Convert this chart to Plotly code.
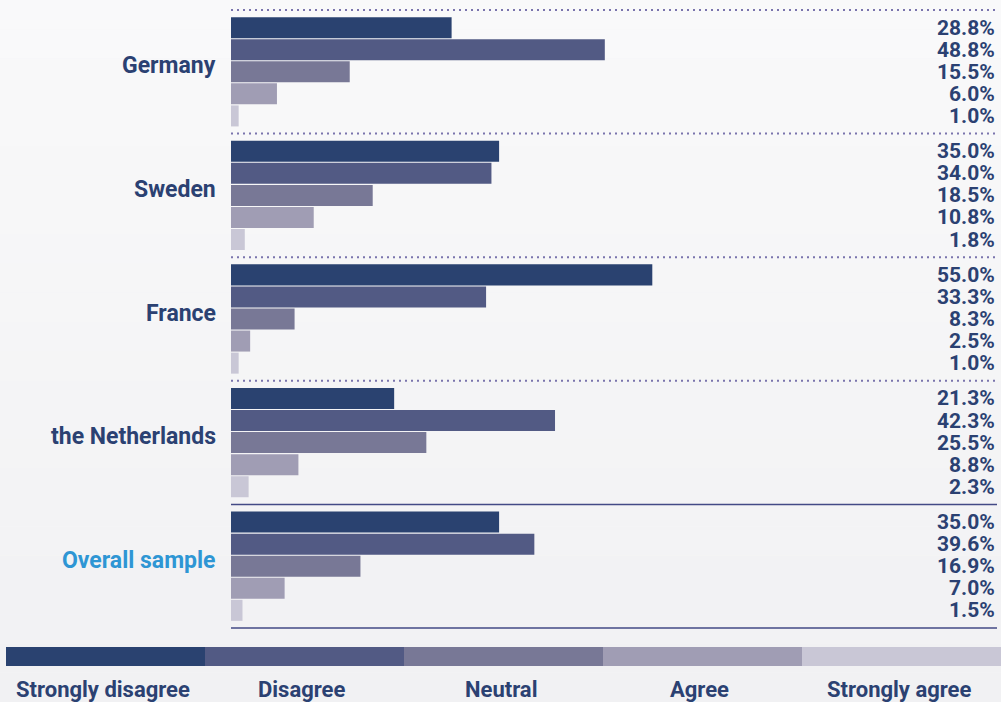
import plotly.graph_objects as go

# Survey responses by country (% of respondents)
countries = ["Germany", "Sweden", "France", "the Netherlands", "Overall sample"]
responses = ["Strongly disagree", "Disagree", "Neutral", "Agree", "Strongly agree"]
strongly_disagree = [28.8, 35.0, 55.0, 21.3, 35.0]
disagree = [48.8, 34.0, 33.3, 42.3, 39.6]
neutral = [15.5, 18.5, 8.3, 25.5, 16.9]
agree = [6.0, 10.8, 2.5, 8.8, 7.0]
strongly_agree = [1.0, 1.8, 1.0, 2.3, 1.5]
series = [strongly_disagree, disagree, neutral, agree, strongly_agree]

colors = ["#2a4270", "#525a84", "#787896", "#a09db4", "#c9c7d6"]
navy = "#2b4172"
highlight = "#2e96d4"
FONT = "Roboto, Liberation Sans, sans-serif"

W, H = 1001, 702
ML, MR, MT, MB = 231, 4, 8, 72
PW, PH = W - ML - MR, H - MT - MB

PITCH = 0.1785      # spacing between bars inside a country group
BAR_W = 0.170       # bar thickness in category units
PAD = 2 / 123.6     # keeps edge rules inside the plotting area


def px_x(px):
    return (px - ML) / PW


def px_y(py):
    return (H - MB - py) / PH


fig = go.Figure()

for j, (name, vals) in enumerate(zip(responses, series)):
    ys = [i + (j - 2) * PITCH for i in range(len(countries))]
    fig.add_trace(go.Bar(
        x=vals, y=ys, orientation="h", width=BAR_W, name=name,
        marker=dict(color=colors[j], line=dict(width=0)),
        showlegend=False, hoverinfo="x+name",
    ))
    for y, v in zip(ys, vals):
        fig.add_annotation(
            x=100, y=y, xref="x", yref="y", text=f"{v:.1f}%",
            showarrow=False, xanchor="right", yanchor="middle", xshift=0,
            font=dict(family=FONT, size=21, color=navy, weight="bold"),
        )

shapes = []
# group dividers: dotted between countries, solid around the overall sample
for k in range(len(countries) + 1):
    yb = k - 0.5
    solid = k >= len(countries) - 1
    shapes.append(dict(
        type="line", xref="x", yref="y", x0=0, x1=100, y0=yb, y1=yb,
        line=dict(color="#434a86" if solid else "#7a74ad",
                  width=1.5 if solid else 2,
                  dash="solid" if solid else "2px,4px"),
        layer="above",
    ))

# soft vertical background gradient
n_bands = 24
top_c, bot_c = (249, 249, 250), (241, 241, 243)
for b in range(n_bands):
    t = b / (n_bands - 1)
    c = tuple(round(top_c[i] + (bot_c[i] - top_c[i]) * t) for i in range(3))
    shapes.append(dict(
        type="rect", xref="paper", yref="paper",
        x0=px_x(0), x1=px_x(W),
        y0=px_y(H * (b + 1) / n_bands), y1=px_y(H * b / n_bands),
        fillcolor=f"rgb{c}", line=dict(width=0), layer="below",
    ))

# colour key along the bottom
key_left, key_right = 6, W
seg = (key_right - key_left) / len(responses)
for j, name in enumerate(responses):
    x0 = key_left + j * seg
    shapes.append(dict(
        type="rect", xref="paper", yref="paper",
        x0=px_x(x0), x1=px_x(x0 + seg), y0=px_y(666), y1=px_y(647),
        fillcolor=colors[j], line=dict(width=0), layer="above",
    ))
    fig.add_annotation(
        x=px_x(x0 + seg / 2 - 3), y=px_y(689), xref="paper", yref="paper",
        text=name, showarrow=False, xanchor="center", yanchor="middle",
        font=dict(family=FONT, size=22, color=navy, weight="bold"),
    )

# country labels to the left of the bars
for i, c in enumerate(countries):
    fig.add_annotation(
        x=0, y=i, xref="paper", yref="y", text=c, showarrow=False,
        xanchor="right", yanchor="middle", xshift=-13, yshift=6,
        font=dict(family=FONT, size=23, weight="bold",
                  color=highlight if c == "Overall sample" else navy),
    )

fig.update_layout(
    width=W, height=H,
    margin=dict(l=ML, r=MR, t=MT, b=MB),
    paper_bgcolor="#f5f5f7", plot_bgcolor="rgba(0,0,0,0)",
    barmode="overlay", shapes=shapes,
    xaxis=dict(range=[0, 100], visible=False, fixedrange=True),
    yaxis=dict(range=[len(countries) - 0.5 + PAD, -0.5 - PAD],
               visible=False, fixedrange=True),
    font=dict(family=FONT),
)

fig.write_html("out.html")
